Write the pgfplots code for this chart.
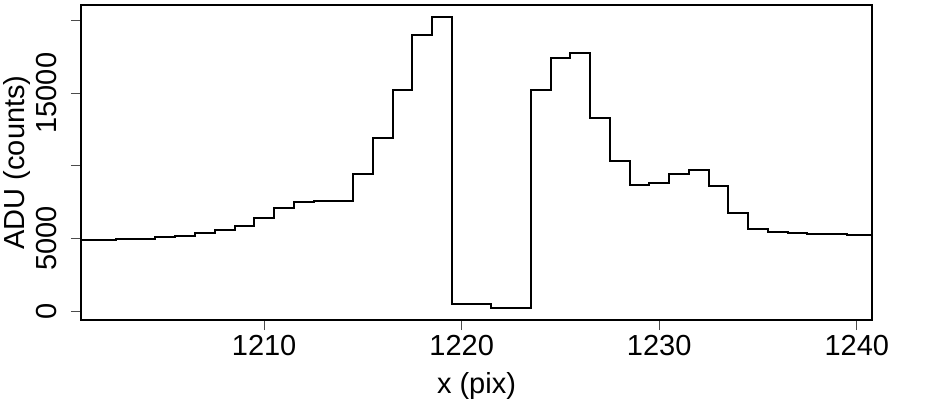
\documentclass[border=0pt]{standalone}
\usepackage{fontspec}
\setmainfont{Liberation Sans}
\usepackage{pgfplots}
\pgfplotsset{compat=1.18}
\begin{document}
\fontsize{29}{34}\selectfont
\begin{tikzpicture}
\begin{axis}[
  scale only axis, width=791pt, height=315pt,
  xmin=1200.73, xmax=1240.77, ymin=-584, ymax=21050,
  axis line style={line width=1.8pt},
  scaled x ticks=false, scaled y ticks=false,
  xtick={1210,1220,1230,1240},
  xticklabels={1210,1220,1230,1240},
  ytick={0,5000,10000,15000,20000},
  yticklabels={0,5000,,15000,},
  tick align=outside, xtick pos=bottom, ytick pos=left,
  major tick length=10pt,
  every tick/.style={black!70, line width=1pt},
  xticklabel style={anchor=north, inner sep=0pt, yshift=-5pt},
  yticklabel style={rotate=90, anchor=base, inner sep=0pt, yshift=14pt},
  xlabel={x (pix)}, ylabel={ADU (counts)},
  xlabel style={at={(axis description cs:0.5,0)}, anchor=base, inner sep=0pt, yshift=-73pt},
  ylabel style={at={(axis description cs:0,0.5)}, anchor=base, inner sep=0pt, yshift=56pt},
  clip=true,
]
\addplot[const plot mark mid, black, line width=2pt] coordinates {
(1200,4905) (1201,4911) (1202,4931) (1203,4954) (1204,5000) (1205,5096)
(1206,5206) (1207,5412) (1208,5577) (1209,5872) (1210,6422) (1211,7087)
(1212,7541) (1213,7570) (1214,7590) (1215,9444) (1216,11916) (1217,15213)
(1218,18970) (1219,20247) (1220,515) (1221,538) (1222,220) (1223,220)
(1224,15234) (1225,17390) (1226,17733) (1227,13268) (1228,10336) (1229,8688)
(1230,8848) (1231,9466) (1232,9697) (1233,8597) (1234,6744) (1235,5688)
(1236,5460) (1237,5391) (1238,5300) (1239,5300) (1240,5275) (1241,5230)
};
\end{axis}
\pgfresetboundingbox
\path[use as bounding box] ([shift={(-81pt,-81pt)}]current axis.south west) rectangle ([shift={(80pt,5pt)}]current axis.north east);
\end{tikzpicture}
\end{document}
